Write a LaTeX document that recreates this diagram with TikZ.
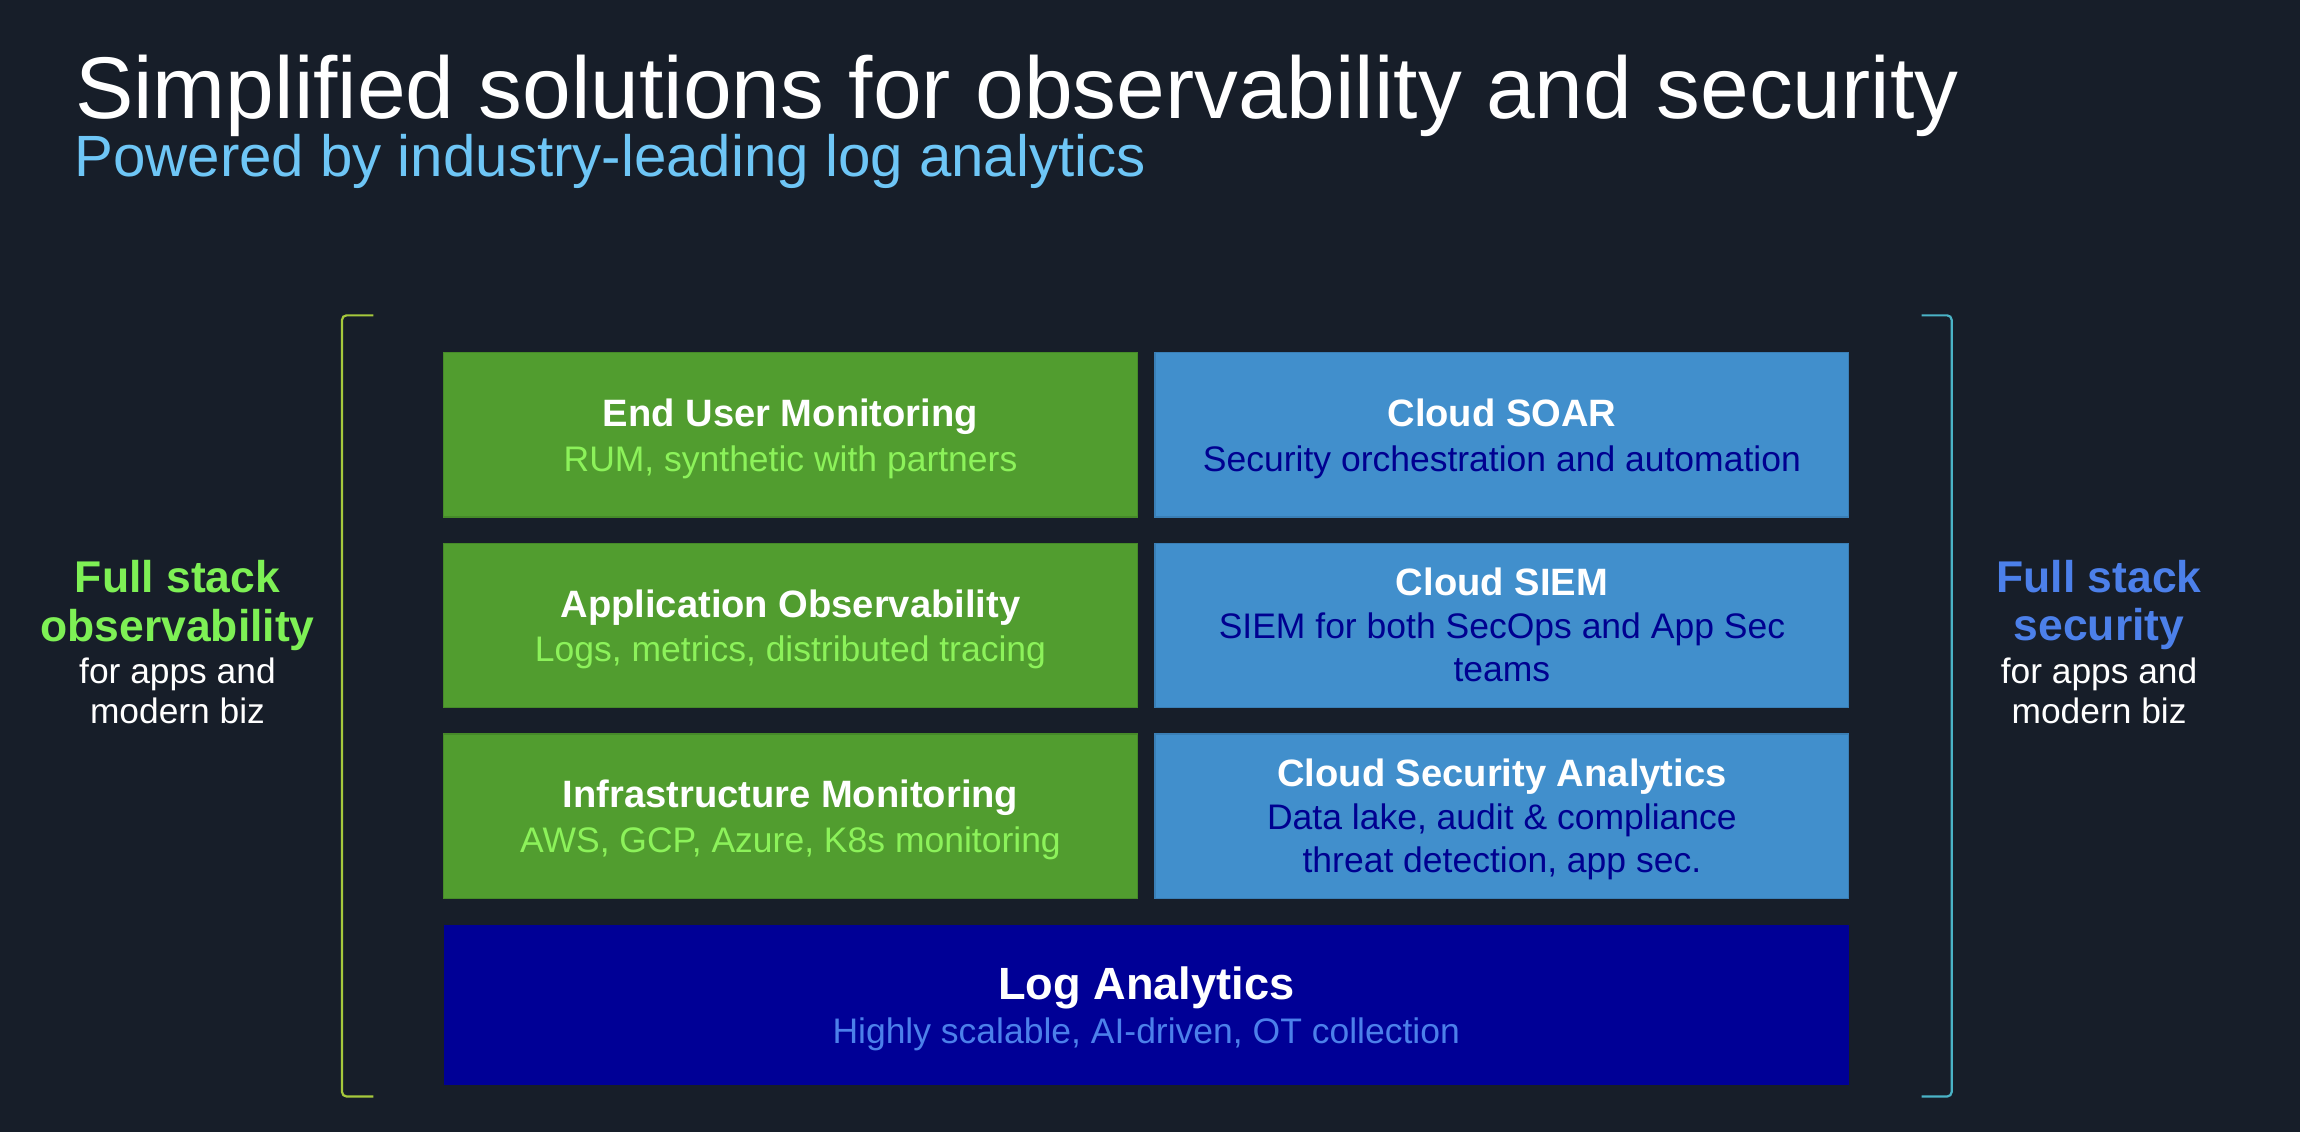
\documentclass[tikz,border=0pt]{standalone}
\usepackage{fontspec}
\setmainfont{Liberation Sans}
\usetikzlibrary{calc}

\definecolor{bgnavy}{HTML}{171E29}
\definecolor{obsgreen}{HTML}{519D2F}
\definecolor{obsgreenedge}{HTML}{468A29}
\definecolor{secblue}{HTML}{418FCC}
\definecolor{secblueedge}{HTML}{3A7FB6}
\definecolor{logblue}{HTML}{000096}
\definecolor{limetext}{HTML}{8CF25A}
\definecolor{labelgreen}{HTML}{7EF055}
\definecolor{navytext}{HTML}{000090}
\definecolor{periwinkle}{HTML}{4C80EA}
\definecolor{skyblue}{HTML}{6EC6F6}
\definecolor{bracketlime}{HTML}{A6C93C}
\definecolor{bracketteal}{HTML}{4AB3C6}

\begin{document}
\begin{tikzpicture}[x=1pt,y=-1pt,
  tile/.style={rectangle,inner sep=0pt,anchor=north west,line width=0.8pt},
  greentile/.style={tile,fill=obsgreen,draw=obsgreenedge,minimum width=473pt,minimum height=112pt},
  bluetile/.style={tile,fill=secblue,draw=secblueedge,minimum width=473pt,minimum height=112pt},
  logtile/.style={tile,fill=logblue,minimum width=958pt,minimum height=109pt},
  heading/.style={anchor=base,inner sep=0pt,text=white,font=\fontsize{26}{30}\selectfont\bfseries},
  greensub/.style={anchor=base,inner sep=0pt,text=limetext,font=\fontsize{24.2}{30}\selectfont},
  bluesub/.style={anchor=base,inner sep=0pt,text=navytext,font=\fontsize{24.2}{30}\selectfont},
  sidebold/.style={anchor=base,inner sep=0pt,font=\fontsize{30.3}{33}\selectfont\bfseries},
  sideplain/.style={anchor=base,inner sep=0pt,text=white,font=\fontsize{24.1}{28}\selectfont},
  bracket/.style={line width=1.5pt,rounded corners=3pt}
]
% page: fixed frame, background bleeds past it
\useasboundingbox (0,0) rectangle (1568,771.7);
\fill[bgnavy] (-10,-10) rectangle (1578,782);

% headline
\node[anchor=base west,inner sep=0pt,text=white,font=\fontsize{59.7}{70}\selectfont]
  (headline) at (51,81) {Simplified solutions for observability and security};
\node[anchor=base west,inner sep=0pt,text=skyblue,font=\fontsize{39.7}{46}\selectfont]
  (tagline) at (50.5,120.5) {Powered by industry-leading log analytics};

% observability column
\node[greentile] (eum) at (302,240) {};
\node[greentile] (apm) at (302,370) {};
\node[greentile] (infra) at (302,500) {};
% security column
\node[bluetile] (soar) at (787,240) {};
\node[bluetile] (siem) at (787,370) {};
\node[bluetile] (csa) at (787,500) {};
% foundation
\node[logtile] (logs) at (302,630) {};

% tile texts
\node[heading]  (eumT)  at ($(eum.center)+(0,-5.6)$)  {End User Monitoring};
\node[greensub] (eumS)  at ($(eum.center)+(0,24.9)$)  {RUM, synthetic with partners};
\node[heading]  (apmT)  at ($(apm.center)+(0,-5.6)$)  {Application Observability};
\node[greensub] (apmS)  at ($(apm.center)+(0,24.9)$)  {Logs, metrics, distributed tracing};
\node[heading]  (infT)  at ($(infra.center)+(0,-5.6)$) {Infrastructure Monitoring};
\node[greensub] (infS)  at ($(infra.center)+(0,24.9)$) {AWS, GCP, Azure, K8s monitoring};

\node[heading]  (soarT) at ($(soar.center)+(0,-5.6)$) {Cloud SOAR};
\node[bluesub]  (soarS) at ($(soar.center)+(0,24.9)$) {Security orchestration and automation};
\node[heading]  (siemT) at ($(siem.center)+(0,-20.4)$) {Cloud SIEM};
\node[bluesub]  (siemS) at ($(siem.center)+(0,9.2)$)  {SIEM for both SecOps and App Sec};
\node[bluesub]  (siemU) at ($(siem.center)+(0,38.3)$) {teams};
\node[heading]  (csaT)  at ($(csa.center)+(0,-20.4)$) {Cloud Security Analytics};
\node[bluesub]  (csaS)  at ($(csa.center)+(0,9.2)$)  {Data lake, audit \& compliance};
\node[bluesub]  (csaU)  at ($(csa.center)+(0,38.3)$) {threat detection, app sec.};

\node[heading,font=\fontsize{30.8}{34}\selectfont\bfseries] (logT) at ($(logs.center)+(0,-3.2)$) {Log Analytics};
\node[greensub,text=periwinkle] (logS) at ($(logs.center)+(0,26.4)$) {Highly scalable, AI-driven, OT collection};

% side brackets
\coordinate (lbTop) at (254.5,215);
\coordinate (lbBot) at (254.5,747.5);
\coordinate (rbTop) at (1310,215);
\coordinate (rbBot) at (1310,747.5);
\draw[bracket,draw=bracketlime] (lbTop) -- (233.2,215) -- (233.2,747.5) -- (lbBot);
\draw[bracket,draw=bracketteal] (rbTop) -- (1330.5,215) -- (1330.5,747.5) -- (rbBot);

% side captions
\node[sidebold,text=labelgreen] (obs1) at (121,404) {Full stack};
\node[sidebold,text=labelgreen] (obs2) at (121,437) {observability};
\node[sideplain] (obs3) at (121,466) {for apps and};
\node[sideplain] (obs4) at (121,493) {modern biz};

\node[sidebold,text=periwinkle] (sec1) at (1431,404) {Full stack};
\node[sidebold,text=periwinkle] (sec2) at (1431,436.5) {security};
\node[sideplain] (sec3) at (1431,466) {for apps and};
\node[sideplain] (sec4) at (1431,493) {modern biz};
\end{tikzpicture}
\end{document}
